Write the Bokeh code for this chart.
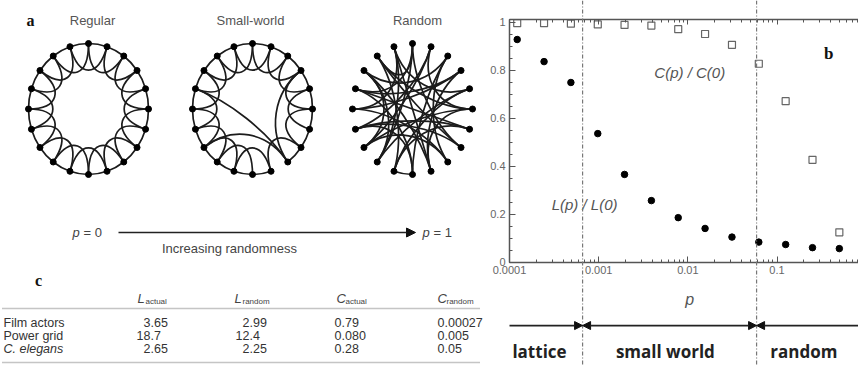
import math
from bokeh.plotting import figure
from bokeh.layouts import row
from bokeh.models import (Range1d, LogAxis, LinearAxis, LogTicker, SingleIntervalTicker,
                          CustomJSTickFormatter, Span, Arrow, NormalHead)
from bokeh.core.properties import value
from bokeh.embed import file_html
from bokeh.resources import INLINE

# ---------------- data ----------------
# panel b : Watts-Strogatz normalised path length and clustering
p_values = [0.000122, 0.000244, 0.000488, 0.000977, 0.00195, 0.0039, 0.0078,
            0.0156, 0.03125, 0.0625, 0.125, 0.25, 0.5]
L_ratio = [0.927, 0.835, 0.748, 0.535, 0.365, 0.256, 0.185, 0.14, 0.104,
           0.083, 0.073, 0.06, 0.056]
C_ratio = [0.995, 0.995, 0.993, 0.99, 0.988, 0.985, 0.97, 0.95, 0.905,
           0.826, 0.67, 0.426, 0.124]
regime_bounds = [0.00066, 0.059]
regime_labels = ["lattice", "small world", "random"]
regime_label_p = [0.000217, 0.0056, 0.2]

# panel c : table
table_rows = ["Film actors", "Power grid", "C. elegans"]
L_actual = ["3.65", "18.7", "2.65"]
L_random = ["2.99", "12.4", "2.25"]
C_actual = ["0.79", "0.080", "0.28"]
C_random = ["0.00027", "0.005", "0.05"]
header_main = ["L", "L", "C", "C"]
header_sub = ["actual", "random", "actual", "random"]

# panel a : networks
n_nodes = 20
network_titles = ["Regular", "Small-world", "Random"]
sw_removed = [(8, 9), (6, 8), (8, 10)]
sw_added = [(16, 8), (13, 8), (3, 8)]
random_ring_edges = [(10, 11)]
random_edges = [
    (0, 7), (0, 12), (1, 5), (1, 14), (2, 10), (2, 17), (3, 9), (3, 15),
    (4, 11), (4, 19), (5, 13), (5, 9), (6, 16), (6, 11), (7, 14), (7, 18),
    (8, 13), (8, 2), (9, 17), (10, 16), (11, 18), (12, 4), (12, 19), (13, 1),
    (14, 6), (15, 8), (15, 19), (16, 3), (17, 12), (18, 0), (19, 9), (14, 10),
    (13, 17), (16, 0), (18, 5),
]

# ---------------- layout constants (reference pixel space) ----------------
REF_H = 365
LEFT_W = 485
FONT = "Liberation Sans"
SERIF = "Liberation Serif"

left = figure(width=LEFT_W, height=REF_H, x_range=Range1d(0, LEFT_W), y_range=Range1d(REF_H, 0),
              x_axis_location=None, y_axis_location=None, toolbar_location=None,
              output_backend="svg", min_border=0, min_border_top=0, min_border_bottom=0,
              min_border_left=0, min_border_right=0, outline_line_color=None)
left.grid.grid_line_color = None

RX, RY = 60, 65.5
centers = [(88, 108.5), (252, 108.5), (412, 108.5)]


def node_xy(c, i):
    th = math.radians(90 - 360.0 * i / n_nodes)
    return c[0] + RX * math.cos(th), c[1] - RY * math.sin(th), th


bez = dict(x0=[], y0=[], x1=[], y1=[], cx0=[], cy0=[], cx1=[], cy1=[])


def add_ring(c, i, j):
    x0, y0, t0 = node_xy(c, i)
    x1, y1, t1 = node_xy(c, j)
    k = 0.105
    bez["x0"].append(x0); bez["y0"].append(y0)
    bez["x1"].append(x1); bez["y1"].append(y1)
    bez["cx0"].append(x0 + k * RX * math.sin(t0)); bez["cy0"].append(y0 + k * RY * math.cos(t0))
    bez["cx1"].append(x1 - k * RX * math.sin(t1)); bez["cy1"].append(y1 - k * RY * math.cos(t1))


def add_curve(c, i, j, depth):
    x0, y0, _ = node_xy(c, i)
    x1, y1, _ = node_xy(c, j)
    bez["x0"].append(x0); bez["y0"].append(y0)
    bez["x1"].append(x1); bez["y1"].append(y1)
    bez["cx0"].append(c[0] + depth * (x0 - c[0])); bez["cy0"].append(c[1] + depth * (y0 - c[1]))
    bez["cx1"].append(c[0] + depth * (x1 - c[0])); bez["cy1"].append(c[1] + depth * (y1 - c[1]))


def same(e, i, j):
    return (e[0] == i and e[1] == j) or (e[0] == j and e[1] == i)


for gi, c in enumerate(centers[:2]):
    removed = sw_removed if gi == 1 else []
    for i in range(n_nodes):
        j = (i + 1) % n_nodes
        if not any(same(e, i, j) for e in removed):
            add_ring(c, i, j)
        j2 = (i + 2) % n_nodes
        if not any(same(e, i, j2) for e in removed):
            add_curve(c, i, j2, 0.5)
for (i, j) in sw_added:
    add_curve(centers[1], i, j, 0.42)
for (i, j) in random_ring_edges:
    add_ring(centers[2], i, j)
for (i, j) in random_edges:
    add_curve(centers[2], i, j, 0.45)

left.bezier(**bez, line_color="#1c1c1c", line_width=1.7)

nx, ny = [], []
for c in centers:
    for i in range(n_nodes):
        x, y, _ = node_xy(c, i)
        nx.append(x); ny.append(y)
left.scatter(nx, ny, size=6, color="#000000")

# titles
left.text(x=[92, 250, 417], y=[20, 20, 20], text=network_titles, text_font=value(FONT),
          text_font_size="13px", text_color="#555555", text_align="center", text_baseline="middle")
# panel letters
left.text(x=[30, 38], y=[20, 280], text=["a", "c"], text_font=value(SERIF), text_font_style="bold",
          text_font_size="16px", text_color="#111111", text_align="center", text_baseline="middle")

# randomness arrow
left.add_layout(Arrow(end=NormalHead(size=9, fill_color="#111111", line_color="#111111"),
                      x_start=118, y_start=232, x_end=415, y_end=232,
                      line_color="#222222", line_width=1.5))
left.text(x=[72, 422], y=[232, 232], text=["p", "p"], text_font=value(FONT), text_font_style="italic",
          text_font_size="13px", text_color="#444444", text_align="left", text_baseline="middle")
left.text(x=[83, 433], y=[232, 232], text=["= 0", "= 1"], text_font=value(FONT),
          text_font_size="13px", text_color="#444444", text_align="left", text_baseline="middle")
left.text(x=[229], y=[248], text=["Increasing randomness"], text_font=value(FONT),
          text_font_size="13px", text_color="#444444", text_align="center", text_baseline="middle")

# table
left.segment(x0=[2, 2], y0=[308, 362], x1=[480, 480], y1=[308, 362],
             line_color="#8a8a8a", line_width=1.5, line_dash="1 1")
head_x = [137, 234, 336, 437]
sub_dx = [8, 8, 9, 9]
left.text(x=head_x, y=[298] * 4, text=header_main, text_font=value(FONT), text_font_style="italic",
          text_font_size="13px", text_color="#444444", text_align="left", text_baseline="middle")
left.text(x=[hx + d for hx, d in zip(head_x, sub_dx)], y=[301] * 4, text=header_sub,
          text_font=value(FONT), text_font_size="8px", text_color="#444444",
          text_align="left", text_baseline="middle")
rows_y = [322, 335, 348]
left.text(x=[3, 3], y=rows_y[:2], text=table_rows[:2], text_font=value(FONT),
          text_font_size="12.5px", text_color="#333333", text_align="left", text_baseline="middle")
left.text(x=[3], y=rows_y[2:], text=table_rows[2:], text_font=value(FONT), text_font_style="italic",
          text_font_size="12.5px", text_color="#333333", text_align="left", text_baseline="middle")
dec_x = [150, 249, 341, 444]
ix, iy, it, fx, fy, ft = [], [], [], [], [], []
for col, vals in enumerate([L_actual, L_random, C_actual, C_random]):
    for r, s in enumerate(vals):
        ip, fp = s.split(".")
        ix.append(dec_x[col]); iy.append(rows_y[r]); it.append(ip)
        fx.append(dec_x[col]); fy.append(rows_y[r]); ft.append("." + fp)
left.text(x=ix, y=iy, text=it, text_font=value(FONT), text_font_size="12.5px", text_color="#333333",
          text_align="right", text_baseline="middle")
left.text(x=fx, y=fy, text=ft, text_font=value(FONT), text_font_size="12.5px", text_color="#333333",
          text_align="left", text_baseline="middle")

# ---------------- panel b ----------------
Y_FRAME_TOP = 1.0896   # top edge of the figure
Y_SPINE = 1.0104       # top spine of the plot box
Y_BOT = -0.431
P_MIN, P_MAX = 1e-4, 0.82
P_FRAME_MIN = 5.38e-5  # left edge of the figure (room for y tick labels)
right = figure(width=373, height=REF_H, x_axis_type="log", x_range=Range1d(P_FRAME_MIN, P_MAX),
               y_range=Range1d(Y_BOT, Y_FRAME_TOP), toolbar_location=None, output_backend="svg",
               x_axis_location=None, y_axis_location=None, outline_line_color=None,
               min_border_left=0, min_border_right=0, min_border_top=0, min_border_bottom=0)
right.grid.grid_line_color = None

AX_COL = "#555555"
tick_fmt_x = CustomJSTickFormatter(code="return Number(tick.toPrecision(4)).toString();")
tick_fmt_y = CustomJSTickFormatter(code="return tick.toFixed(1).replace(/\\.0$/, '');")

yax = LinearAxis(ticker=SingleIntervalTicker(interval=0.2, num_minor_ticks=4), bounds=(0, Y_SPINE),
                 fixed_location=P_MIN,
                 formatter=tick_fmt_y, major_tick_in=6, major_tick_out=0, minor_tick_in=3, minor_tick_out=0,
                 axis_line_color=AX_COL, axis_line_width=1.5, major_tick_line_color=AX_COL,
                 minor_tick_line_color=AX_COL, major_label_text_font=FONT, major_label_text_font_size="11px",
                 major_label_text_color="#666666", major_label_standoff=4)
right.add_layout(yax, "left")

xax = LogAxis(ticker=LogTicker(num_minor_ticks=10), fixed_location=0, bounds=(P_MIN, P_MAX),
              formatter=tick_fmt_x, major_tick_in=6, major_tick_out=0, minor_tick_in=3, minor_tick_out=0,
              axis_line_color=AX_COL, axis_line_width=1.5, major_tick_line_color=AX_COL,
              minor_tick_line_color=AX_COL, major_label_text_font=FONT, major_label_text_font_size="11px",
              major_label_text_color="#666666", major_label_standoff=4)
right.add_layout(xax, "below")

topax = LogAxis(ticker=LogTicker(num_minor_ticks=10), fixed_location=Y_SPINE, bounds=(P_MIN, P_MAX),
                major_tick_in=5, major_tick_out=0, minor_tick_in=3, minor_tick_out=0,
                axis_line_color=AX_COL, axis_line_width=1.5,
                major_tick_line_color=AX_COL, minor_tick_line_color=AX_COL,
                major_label_text_font_size="5px", major_label_text_color=None, major_label_standoff=0)
right.add_layout(topax, "above")

for b in regime_bounds:
    right.add_layout(Span(location=b, dimension="height", line_color="#777777",
                          line_dash="4 2 1 2", line_width=1.2))

right.scatter(p_values, C_ratio, marker="square", size=7, fill_color="white",
              line_color="#666666", line_width=1.2)
right.scatter(p_values, L_ratio, size=6.5, color="#000000")

right.text(x=[0.0105], y=[0.79], text=["C(p) / C(0)"], text_font=value(FONT), text_font_style="italic",
           text_font_size="15px", text_color="#555555", text_align="center", text_baseline="middle")
right.text(x=[0.000695], y=[0.24], text=["L(p) / L(0)"], text_font=value(FONT), text_font_style="italic",
           text_font_size="15px", text_color="#555555", text_align="center", text_baseline="middle")
right.text(x=[0.38], y=[0.87], text=["b"], text_font=value(SERIF), text_font_style="bold",
           text_font_size="17px", text_color="#111111", text_align="center", text_baseline="middle")
# x axis title (axis sits inside the frame at y = 0)
right.text(x=[0.0105], y=[-0.156], text=["p"], text_font=value(FONT), text_font_style="italic",
           text_font_size="16px", text_color="#555555", text_align="center", text_baseline="middle")

ARROW_Y = -0.2646
head = dict(size=8, fill_color="#111111", line_color="#111111")
right.add_layout(Arrow(end=NormalHead(**head), x_start=P_MIN, y_start=ARROW_Y,
                       x_end=regime_bounds[0], y_end=ARROW_Y, line_color="#222222", line_width=1.8))
right.add_layout(Arrow(start=NormalHead(**head), end=NormalHead(**head), x_start=regime_bounds[0],
                       y_start=ARROW_Y, x_end=regime_bounds[1], y_end=ARROW_Y,
                       line_color="#222222", line_width=1.8))
right.add_layout(Arrow(start=NormalHead(**head), end=None, x_start=regime_bounds[1], y_start=ARROW_Y,
                       x_end=P_MAX, y_end=ARROW_Y, line_color="#222222", line_width=1.8))

right.text(x=regime_label_p, y=[-0.372] * 3, text=regime_labels, text_font=value("Open Sans"),
           text_font_style="bold", text_font_size="17px", text_color="#222222",
           text_align="center", text_baseline="alphabetic")

layout = row(left, right)
open("out.html", "w").write(file_html(layout, INLINE))
